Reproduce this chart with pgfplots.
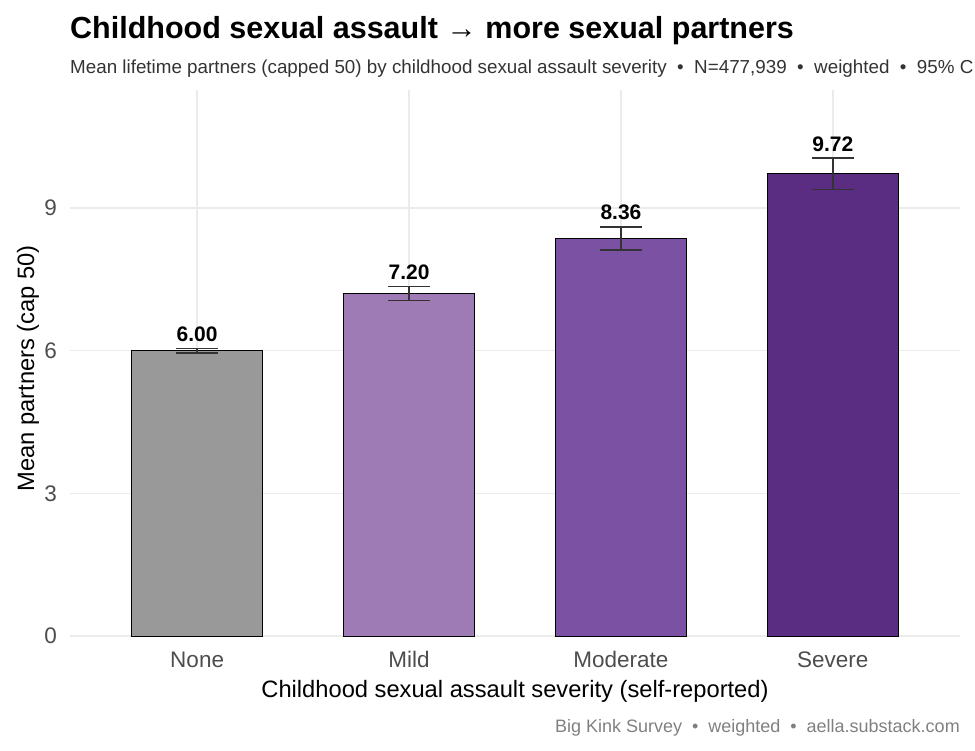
\documentclass[border=0pt]{standalone}
\usepackage{pgfplots}
\pgfplotsset{compat=1.18}
\usepackage{fontspec}
\setmainfont{Liberation Sans}

\definecolor{gridgray}{HTML}{EBEBEB}
\definecolor{tickgray}{HTML}{4D4D4D}
\definecolor{subgray}{HTML}{333333}
\definecolor{capgray}{HTML}{808080}
\definecolor{errgray}{HTML}{333333}
\definecolor{cNone}{HTML}{999999}
\definecolor{cMild}{HTML}{9E7BB5}
\definecolor{cModerate}{HTML}{7B52A3}
\definecolor{cSevere}{HTML}{5A2D82}

\pgfplotsset{
  sevbar/.style={ybar, bar width=131pt, bar shift=0pt, draw=black, line width=0.9pt,
    error bars/y dir=both, error bars/y explicit,
    error bars/error bar style={line width=1.5pt, color=errgray},
    error bars/error mark options={rotate=90, mark size=20.8pt, line width=1.5pt, color=errgray}},
}

\begin{document}
\begin{tikzpicture}
\begin{axis}[
  at={(70pt,114pt)}, anchor=south west,
  width=890pt, height=546pt, scale only axis,
  xmin=-0.6, xmax=3.6, ymin=0, ymax=11.48,
  axis line style={draw=none},
  tick style={draw=none},
  xtick={0,1,2,3}, xticklabels={None,Mild,Moderate,Severe},
  ytick={0,3,6,9},
  grid=major, major grid style={gridgray, line width=1.5pt},
  ticklabel style={font=\fontsize{22.5}{22.5}\selectfont, text=tickgray, inner sep=0pt},
  /pgf/number format/assume math mode=true,
  xticklabel style={anchor=base, yshift=-32pt},
  yticklabel style={anchor=east, xshift=-13pt},
  xlabel={Childhood sexual assault severity (self-reported)},
  ylabel={Mean partners (cap 50)},
  label style={font=\fontsize{23.7}{23.7}\selectfont},
  xlabel style={at={(axis description cs:0.5,0)}, anchor=base, yshift=-62pt},
  ylabel style={at={(axis description cs:-0.0404,0.49)}, anchor=base},
  clip=false,
]
% bars with 95% CI
\addplot[sevbar, fill=cNone]     coordinates {(0,6.00) +- (0,0.05)};
\addplot[sevbar, fill=cMild]     coordinates {(1,7.20) +- (0,0.15)};
\addplot[sevbar, fill=cModerate] coordinates {(2,8.36) +- (0,0.24)};
\addplot[sevbar, fill=cSevere]   coordinates {(3,9.72) +- (0,0.33)};
% value labels above the upper CI bound
\addplot[only marks, mark=none, nodes near coords, point meta=explicit symbolic,
  every node near coord/.append style={anchor=base, yshift=7pt,
    font=\bfseries\fontsize{21}{21}\selectfont, text=black}]
  coordinates {(0,6.05)[6.00] (1,7.35)[7.20] (2,8.60)[8.36] (3,10.05)[9.72]};
\end{axis}
\node[anchor=base west, font=\bfseries\fontsize{30.5}{30.5}\selectfont, inner sep=0pt] at (70pt,711pt)
  {Childhood sexual assault → more sexual partners};
\node[anchor=base west, font=\fontsize{18.8}{18.8}\selectfont, text=subgray, inner sep=0pt] at (70pt,676pt)
  {Mean lifetime partners (capped 50) by childhood sexual assault severity\ \ •\ \ N=477,939\ \ •\ \ weighted\ \ •\ \ 95\% CI};
\node[anchor=base east, font=\fontsize{18}{18}\selectfont, text=capgray, inner sep=0pt] at (960pt,17pt)
  {Big Kink Survey\ \ •\ \ weighted\ \ •\ \ aella.substack.com};
\pgfresetboundingbox
\path[use as bounding box] (0,0) rectangle (975pt,750pt);
\end{tikzpicture}
\end{document}
